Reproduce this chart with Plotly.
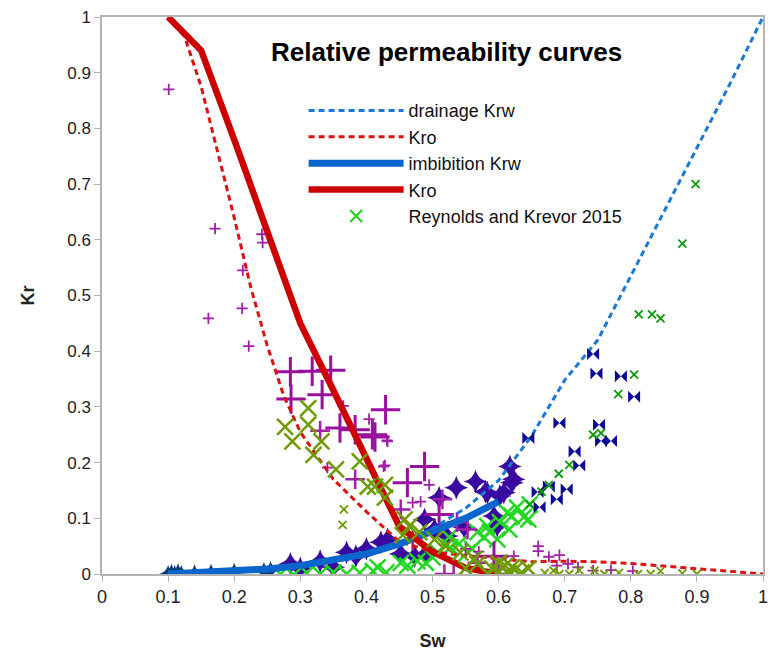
import plotly.graph_objects as go

# ---------------- model curves ----------------
drain_krw_sw = [0.1, 0.2, 0.3, 0.4, 0.45, 0.5, 0.55, 0.6, 0.65, 0.7, 0.75, 0.8, 0.85, 0.9, 0.95, 1.0]
drain_krw = [0.0, 0.004, 0.013, 0.032, 0.052, 0.082, 0.118, 0.168, 0.248, 0.348, 0.42, 0.535, 0.65, 0.765, 0.88, 1.0]

drain_kro_sw = [0.1, 0.125, 0.15, 0.175, 0.2, 0.225, 0.25, 0.275, 0.3, 0.35, 0.4, 0.45, 0.5, 0.55, 0.6,
                0.65, 0.7, 0.75, 0.8, 0.85, 0.9, 0.95, 1.0]
drain_kro = [1.0, 0.965, 0.875, 0.76, 0.64, 0.515, 0.41, 0.32, 0.255, 0.17, 0.112, 0.058, 0.04, 0.033, 0.027,
             0.022, 0.023, 0.022, 0.019, 0.014, 0.01, 0.005, 0.0]

imb_krw_sw = [0.1, 0.15, 0.2, 0.25, 0.3, 0.35, 0.4, 0.45, 0.5, 0.55, 0.6]
imb_krw = [0.0, 0.002, 0.005, 0.009, 0.015, 0.024, 0.036, 0.054, 0.076, 0.1, 0.13]

imb_kro_sw = [0.1, 0.15, 0.2, 0.25, 0.3, 0.35, 0.4, 0.45, 0.5, 0.55, 0.6]
imb_kro = [1.0, 0.94, 0.78, 0.615, 0.45, 0.33, 0.21, 0.085, 0.04, 0.011, 0.0]

# ---------------- Reynolds and Krevor 2015 data ----------------
plus_small_sw = [0.101, 0.171, 0.242, 0.243, 0.213, 0.212, 0.161, 0.222, 0.365, 0.404, 0.431, 0.426, 0.341,
                 0.432, 0.495, 0.428, 0.482, 0.47, 0.66, 0.66, 0.676, 0.692, 0.688, 0.623, 0.743, 0.803,
                 0.72, 0.77, 0.705, 0.55, 0.57]
plus_small_kr = [0.87, 0.62, 0.61, 0.595, 0.545, 0.477, 0.459, 0.409, 0.302, 0.278, 0.24, 0.193, 0.191,
                 0.238, 0.16, 0.195, 0.13, 0.128, 0.05, 0.041, 0.031, 0.034, 0.015, 0.032, 0.006, 0.005,
                 0.012, 0.007, 0.018, 0.045, 0.04]

plus_large_sw = [0.285, 0.318, 0.346, 0.286, 0.333, 0.429, 0.36, 0.383, 0.409, 0.413, 0.488, 0.462, 0.51, 0.593]
plus_large_kr = [0.363, 0.364, 0.366, 0.314, 0.322, 0.295, 0.262, 0.259, 0.25, 0.246, 0.193, 0.164, 0.107, 0.032]

plus_mid_sw = [0.33, 0.383, 0.515, 0.452, 0.537, 0.553, 0.518, 0.532, 0.568, 0.6, 0.47]
plus_mid_kr = [0.257, 0.17, 0.134, 0.116, 0.093, 0.08, 0.0, -0.002, 0.02, 0.0, 0.06]

olive_big_sw = [0.312, 0.277, 0.312, 0.288, 0.332, 0.32, 0.354, 0.39, 0.402, 0.428, 0.458, 0.465, 0.503,
                0.542, 0.563, 0.568, 0.59, 0.6, 0.61, 0.615, 0.625, 0.635, 0.645, 0.6, 0.62, 0.455,
                0.413, 0.428, 0.585, 0.55, 0.52, 0.48]
olive_big_kr = [0.298, 0.264, 0.268, 0.238, 0.238, 0.214, 0.188, 0.202, 0.157, 0.16, 0.098, 0.086, 0.062,
                0.039, 0.027, 0.018, 0.01, 0.005, 0.015, 0.0, 0.008, 0.003, 0.01, 0.02, 0.012, 0.07,
                0.157, 0.137, 0.0, 0.01, 0.05, 0.075]

olive_small_sw = [0.366, 0.364, 0.67, 0.683, 0.707, 0.722, 0.745, 0.76, 0.782, 0.811, 0.83, 0.845, 0.878, 0.9, 0.692]
olive_small_kr = [0.116, 0.088, 0.002, 0.006, 0.0, 0.007, 0.006, 0.0, 0.002, 0.0, 0.0, 0.005, 0.001, 0.0, 0.0]

green_sw = [0.27, 0.29, 0.31, 0.33, 0.35, 0.37, 0.39, 0.41, 0.43, 0.417, 0.452, 0.462, 0.477, 0.508, 0.525,
            0.527, 0.54, 0.553, 0.568, 0.578, 0.583, 0.587, 0.598, 0.602, 0.613, 0.616, 0.62, 0.628, 0.638,
            0.645, 0.647, 0.49, 0.5, 0.56]
green_kr = [0.0, -0.002, 0.002, 0.0, 0.003, 0.0, 0.002, 0.005, 0.003, 0.012, 0.02, 0.015, 0.023, 0.039, 0.066,
            0.048, 0.054, 0.039, 0.075, 0.066, 0.086, 0.075, 0.062, 0.093, 0.11, 0.08, 0.104, 0.119, 0.102,
            0.098, 0.125, 0.02, 0.03, 0.045]

dkgreen_sw = [0.707, 0.691, 0.676, 0.665, 0.647, 0.743, 0.755, 0.805, 0.781, 0.812, 0.832, 0.845, 0.878, 0.898]
dkgreen_kr = [0.196, 0.18, 0.16, 0.148, 0.125, 0.25, 0.253, 0.358, 0.323, 0.466, 0.466, 0.459, 0.593, 0.7]

bowtie_sw = [0.645, 0.692, 0.752, 0.755, 0.77, 0.715, 0.722, 0.676, 0.659, 0.703, 0.688, 0.662,
             0.743, 0.748, 0.785, 0.805]
bowtie_kr = [0.244, 0.271, 0.268, 0.239, 0.239, 0.22, 0.195, 0.157, 0.147, 0.152, 0.134, 0.12,
             0.395, 0.36, 0.355, 0.318]

star_sw = [0.488, 0.51, 0.536, 0.565, 0.58, 0.608, 0.617, 0.62, 0.432, 0.49, 0.503, 0.522, 0.548, 0.593,
           0.452, 0.473, 0.602, 0.598, 0.583, 0.623, 0.285, 0.33, 0.37, 0.384, 0.4, 0.422, 0.3, 0.35]
star_kr = [0.098, 0.137, 0.155, 0.166, 0.148, 0.146, 0.193, 0.164, 0.062, 0.036, 0.08, 0.068, 0.084, 0.104,
           0.036, 0.032, 0.14, 0.086, 0.146, 0.17, 0.018, 0.023, 0.039, 0.032, 0.045, 0.057, 0.01, 0.012]

navy_sw = [0.1, 0.105, 0.11, 0.115, 0.12, 0.14, 0.165, 0.2, 0.245, 0.255]
navy_kr = [0.0, 0.002, 0.0, 0.003, 0.0, 0.001, 0.002, 0.004, 0.005, 0.007]

x_ticks = [0, 0.1, 0.2, 0.3, 0.4, 0.5, 0.6, 0.7, 0.8, 0.9, 1]
y_ticks = [0, 0.1, 0.2, 0.3, 0.4, 0.5, 0.6, 0.7, 0.8, 0.9, 1]

FONT = "Liberation Sans, Arial, sans-serif"

fig = go.Figure()


def markers(xs, ys, symbol, size, color, lw=0, show=False, name="", rank=1000):
    m = dict(symbol=symbol, size=size, color=color)
    if lw:
        m["line"] = dict(width=lw, color=color)
    fig.add_trace(go.Scatter(x=xs, y=ys, mode="markers", marker=m, showlegend=show,
                             name=name, legendrank=rank, hoverinfo="skip"))


markers(navy_sw, navy_kr, "star-diamond", 13, "#0b3d7e")
markers(star_sw, star_kr, "star-diamond", 17, "#3a0aa0")
markers(green_sw, green_kr, "x-thin", 16, "#22d822", lw=2.5)
markers(plus_small_sw, plus_small_kr, "cross-thin", 8, "#a020a8", lw=1.8)
markers(plus_mid_sw, plus_mid_kr, "cross-thin", 14, "#a020a8", lw=2.5)
markers(plus_large_sw, plus_large_kr, "cross-thin", 21, "#99109f", lw=3)

fig.add_trace(go.Scatter(x=drain_krw_sw, y=drain_krw, mode="lines", name="drainage Krw",
                         line=dict(color="#1a78d8", width=3, dash="6px,4px"), legendrank=1))
fig.add_trace(go.Scatter(x=drain_kro_sw, y=drain_kro, mode="lines", name="Kro",
                         line=dict(color="#dd1111", width=3, dash="6px,4px"), legendrank=2))
fig.add_trace(go.Scatter(x=imb_krw_sw, y=imb_krw, mode="lines", name="imbibition Krw",
                         line=dict(color="#0a66cc", width=7), legendrank=3))
fig.add_trace(go.Scatter(x=imb_kro_sw, y=imb_kro, mode="lines", name="Kro",
                         line=dict(color="#cc0000", width=6.5), legendrank=4))

markers(olive_big_sw, olive_big_kr, "x-thin", 16, "#6e9c00", lw=2.5)
markers(olive_small_sw, olive_small_kr, "x-thin", 8, "#6e9c00", lw=1.8)
markers(bowtie_sw, bowtie_kr, "bowtie", 12, "#0a0a96")
markers(dkgreen_sw, dkgreen_kr, "x-thin", 8, "#0a9a0a", lw=1.8)

# legend proxy for the data series
fig.add_trace(go.Scatter(x=[None], y=[None], mode="markers", name="Reynolds and Krevor 2015",
                         marker=dict(symbol="x-thin", size=12, color="#22cc22",
                                     line=dict(width=2, color="#22cc22")),
                         legendrank=5))

fig.add_annotation(text="<b>Relative permeability curves</b>", xref="paper", yref="paper",
                   x=0.521, y=0.937, xanchor="center", yanchor="middle", showarrow=False,
                   font=dict(family=FONT, size=26, color="#000"))

axis_common = dict(showline=True, linecolor="#b3b3b3", linewidth=1.5, mirror=True,
                   ticks="outside", ticklen=6, tickcolor="#b3b3b3", tickwidth=1,
                   showgrid=False, zeroline=False)

fig.update_layout(
    width=776, height=656,
    margin=dict(l=102, r=8, t=15, b=81),
    paper_bgcolor="white", plot_bgcolor="white",
    font=dict(family=FONT, size=16, color="#222"),
    xaxis=dict(range=[0, 1], tickvals=x_ticks, ticktext=[f"{v:g}" for v in x_ticks],
               tickfont=dict(family="Liberation Sans Narrow, Liberation Sans, sans-serif", size=18),
               title=dict(text="<b>Sw</b>", font=dict(size=18, color="#222"), standoff=28),
               **axis_common),
    yaxis=dict(range=[0, 1], tickvals=y_ticks, ticktext=[f"{v:g}" for v in y_ticks],
               tickfont=dict(size=17),
               title=dict(text="<b>Kr</b>", font=dict(size=18, color="#222"), standoff=28),
               **axis_common),
    legend=dict(x=0.305, y=0.865, xanchor="left", yanchor="top", bgcolor="rgba(0,0,0,0)",
                font=dict(family=FONT, size=18, color="#111"), itemwidth=95, tracegroupgap=0),
    showlegend=True,
)

fig.write_html("out.html")
